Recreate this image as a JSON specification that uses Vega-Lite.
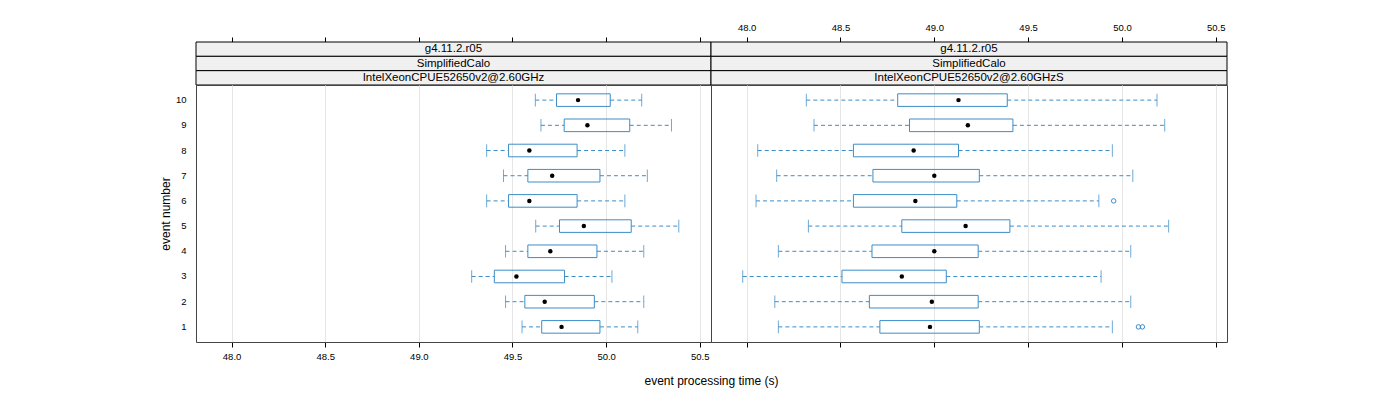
{
  "$schema": "https://vega.github.io/schema/vega-lite/v6.json",
  "padding": {"left": 158, "top": 22, "right": 5, "bottom": 5},
  "autosize": {"type": "pad"},
  "background": "white",
  "datasets": {
    "stats": [
      {"panel": "L", "ev": 10, "lo": 49.622, "q1": 49.735, "med": 49.850, "q3": 50.022, "hi": 50.190},
      {"panel": "L", "ev": 9, "lo": 49.652, "q1": 49.776, "med": 49.900, "q3": 50.126, "hi": 50.349},
      {"panel": "L", "ev": 8, "lo": 49.362, "q1": 49.479, "med": 49.590, "q3": 49.845, "hi": 50.100},
      {"panel": "L", "ev": 7, "lo": 49.452, "q1": 49.582, "med": 49.712, "q3": 49.967, "hi": 50.220},
      {"panel": "L", "ev": 6, "lo": 49.362, "q1": 49.479, "med": 49.590, "q3": 49.845, "hi": 50.100},
      {"panel": "L", "ev": 5, "lo": 49.624, "q1": 49.751, "med": 49.881, "q3": 50.134, "hi": 50.388},
      {"panel": "L", "ev": 4, "lo": 49.463, "q1": 49.582, "med": 49.702, "q3": 49.951, "hi": 50.201},
      {"panel": "L", "ev": 3, "lo": 49.282, "q1": 49.403, "med": 49.521, "q3": 49.778, "hi": 50.031},
      {"panel": "L", "ev": 2, "lo": 49.463, "q1": 49.566, "med": 49.672, "q3": 49.937, "hi": 50.201},
      {"panel": "L", "ev": 1, "lo": 49.551, "q1": 49.656, "med": 49.762, "q3": 49.967, "hi": 50.169},
      {"panel": "R", "ev": 10, "lo": 48.318, "q1": 48.805, "med": 49.129, "q3": 49.389, "hi": 50.187},
      {"panel": "R", "ev": 9, "lo": 48.359, "q1": 48.868, "med": 49.179, "q3": 49.419, "hi": 50.228},
      {"panel": "R", "ev": 8, "lo": 48.059, "q1": 48.569, "med": 48.890, "q3": 49.129, "hi": 49.949},
      {"panel": "R", "ev": 7, "lo": 48.160, "q1": 48.673, "med": 49.000, "q3": 49.240, "hi": 50.058},
      {"panel": "R", "ev": 6, "lo": 48.050, "q1": 48.569, "med": 48.899, "q3": 49.120, "hi": 49.877},
      {"panel": "R", "ev": 5, "lo": 48.329, "q1": 48.827, "med": 49.167, "q3": 49.403, "hi": 50.249},
      {"panel": "R", "ev": 4, "lo": 48.169, "q1": 48.668, "med": 49.000, "q3": 49.234, "hi": 50.047},
      {"panel": "R", "ev": 3, "lo": 47.979, "q1": 48.508, "med": 48.827, "q3": 49.064, "hi": 49.889},
      {"panel": "R", "ev": 2, "lo": 48.150, "q1": 48.654, "med": 48.987, "q3": 49.234, "hi": 50.047},
      {"panel": "R", "ev": 1, "lo": 48.169, "q1": 48.710, "med": 48.977, "q3": 49.240, "hi": 49.949}
    ],
    "outliers": [
      {"panel": "R", "ev": 6, "t": 49.956},
      {"panel": "R", "ev": 1, "t": 50.088},
      {"panel": "R", "ev": 1, "t": 50.109}
    ],
    "strips": [
      {"panel": "L", "level": 1, "label": "g4.11.2.r05"},
      {"panel": "L", "level": 2, "label": "SimplifiedCalo"},
      {"panel": "L", "level": 3, "label": "IntelXeonCPUE52650v2@2.60GHz"},
      {"panel": "R", "level": 1, "label": "g4.11.2.r05"},
      {"panel": "R", "level": 2, "label": "SimplifiedCalo"},
      {"panel": "R", "level": 3, "label": "IntelXeonCPUE52650v2@2.60GHzS"}
    ]
  },
  "columns": 2,
  "spacing": 0,
  "bounds": "flush",
  "concat": [
    {
      "width": 515, "height": 43,
      "view": {"stroke": null},
      "data": {"name": "strips"},
      "transform": [{"filter": "datum.panel == 'L'"}],
      "layer": [
        {
          "mark": {"type": "rect", "fill": "#f0f0f0", "stroke": "#000000", "strokeWidth": 1},
          "encoding": {
            "x": {"datum": 47.81, "type": "quantitative",
                  "scale": {"domain": [47.81, 50.56], "nice": false, "zero": false},
                  "axis": {"orient": "top", "values": [48, 48.5, 49, 49.5, 50, 50.5], "labels": false, "grid": false, "domain": false, "tickSize": 5, "tickColor": "#000000", "title": null}},
            "x2": {"datum": 50.56},
            "y": {"field": "level", "type": "ordinal", "axis": null, "scale": {"paddingInner": 0, "paddingOuter": 0}}
          }
        },
        {
          "mark": {"type": "text", "fontSize": 11.5, "color": "#000000"},
          "encoding": {
            "y": {"field": "level", "type": "ordinal", "axis": null},
            "text": {"field": "label"}
          }
        }
      ]
    },
    {
      "width": 516, "height": 43,
      "view": {"stroke": null},
      "data": {"name": "strips"},
      "transform": [{"filter": "datum.panel == 'R'"}],
      "layer": [
        {
          "mark": {"type": "rect", "fill": "#f0f0f0", "stroke": "#000000", "strokeWidth": 1},
          "encoding": {
            "x": {"datum": 47.81, "type": "quantitative",
                  "scale": {"domain": [47.81, 50.56], "nice": false, "zero": false},
                  "axis": {"orient": "top", "values": [48, 48.5, 49, 49.5, 50, 50.5], "format": ".1f", "labels": true, "grid": false, "domain": false, "tickSize": 5, "tickColor": "#000000", "labelPadding": 5, "labelFontSize": 9.5, "labelColor": "#000000", "title": null}},
            "x2": {"datum": 50.56},
            "y": {"field": "level", "type": "ordinal", "axis": null, "scale": {"paddingInner": 0, "paddingOuter": 0}}
          }
        },
        {
          "mark": {"type": "text", "fontSize": 11.5, "color": "#000000"},
          "encoding": {
            "y": {"field": "level", "type": "ordinal", "axis": null},
            "text": {"field": "label"}
          }
        }
      ]
    },
    {
      "width": 515, "height": 257,
      "data": {"name": "stats"},
      "transform": [{"filter": "datum.panel == 'L'"}],
      "encoding": {
        "y": {"field": "ev", "type": "ordinal", "sort": "descending",
              "scale": {"domain": [10, 9, 8, 7, 6, 5, 4, 3, 2, 1], "paddingInner": 0.5, "paddingOuter": 0.35},
              "axis": {"title": "event number", "ticks": false, "domain": false, "grid": false, "labelPadding": 10, "labelFontSize": 9.5, "labelColor": "#000000", "titleFontSize": 12, "titleFontWeight": "normal", "titleColor": "#000000", "titlePadding": 3, "labelAngle": 0}}
      },
      "layer": [
        {
          "mark": {"type": "rule", "color": "#3c8dc8", "strokeDash": [4, 3], "strokeWidth": 1},
          "encoding": {
            "x": {"field": "lo", "type": "quantitative",
                  "scale": {"domain": [47.81, 50.56], "nice": false, "zero": false},
                  "axis": {"orient": "bottom", "values": [48, 48.5, 49, 49.5, 50, 50.5], "format": ".1f", "grid": true, "gridColor": "#e6e6e6", "domain": false, "tickSize": 5, "tickColor": "#000000", "labelPadding": 4, "labelFontSize": 9.5, "labelColor": "#000000",
                           "title": "event processing time (s)", "titleFontSize": 12, "titleFontWeight": "normal", "titleColor": "#000000", "titleX": 515, "titleY": 42, "titleAlign": "center", "titleBaseline": "alphabetic"}},
            "x2": {"field": "q1"}
          }
        },
        {
          "mark": {"type": "rule", "color": "#3c8dc8", "strokeDash": [4, 3], "strokeWidth": 1},
          "encoding": {"x": {"field": "q3", "type": "quantitative"}, "x2": {"field": "hi"}}
        },
        {
          "mark": {"type": "tick", "color": "#3c8dc8", "size": 12.6, "thickness": 1, "opacity": 0.75},
          "encoding": {"x": {"field": "lo", "type": "quantitative"}}
        },
        {
          "mark": {"type": "tick", "color": "#3c8dc8", "size": 12.6, "thickness": 1, "opacity": 0.75},
          "encoding": {"x": {"field": "hi", "type": "quantitative"}}
        },
        {
          "mark": {"type": "bar", "fill": "#ffffff", "fillOpacity": 0, "stroke": "#3c8dc8", "strokeWidth": 1},
          "encoding": {"x": {"field": "q1", "type": "quantitative"}, "x2": {"field": "q3"}}
        },
        {
          "mark": {"type": "circle", "color": "#000000", "size": 20, "opacity": 1},
          "encoding": {"x": {"field": "med", "type": "quantitative"}}
        }
      ]
    },
    {
      "width": 516, "height": 257,
      "layer": [
        {
          "data": {"name": "stats"},
          "transform": [{"filter": "datum.panel == 'R'"}],
          "encoding": {
            "y": {"field": "ev", "type": "ordinal", "sort": "descending",
                  "scale": {"domain": [10, 9, 8, 7, 6, 5, 4, 3, 2, 1], "paddingInner": 0.5, "paddingOuter": 0.35},
                  "axis": null}
          },
          "layer": [
            {
              "mark": {"type": "rule", "color": "#3c8dc8", "strokeDash": [4, 3], "strokeWidth": 1},
              "encoding": {
                "x": {"field": "lo", "type": "quantitative",
                      "scale": {"domain": [47.81, 50.56], "nice": false, "zero": false},
                      "axis": {"orient": "bottom", "values": [48, 48.5, 49, 49.5, 50, 50.5], "labels": false, "grid": true, "gridColor": "#e6e6e6", "domain": false, "tickSize": 5, "tickColor": "#000000", "title": null}},
                "x2": {"field": "q1"}
              }
            },
            {
              "mark": {"type": "rule", "color": "#3c8dc8", "strokeDash": [4, 3], "strokeWidth": 1},
              "encoding": {"x": {"field": "q3", "type": "quantitative"}, "x2": {"field": "hi"}}
            },
            {
              "mark": {"type": "tick", "color": "#3c8dc8", "size": 12.6, "thickness": 1, "opacity": 0.75},
              "encoding": {"x": {"field": "lo", "type": "quantitative"}}
            },
            {
              "mark": {"type": "tick", "color": "#3c8dc8", "size": 12.6, "thickness": 1, "opacity": 0.75},
              "encoding": {"x": {"field": "hi", "type": "quantitative"}}
            },
            {
              "mark": {"type": "bar", "fill": "#ffffff", "fillOpacity": 0, "stroke": "#3c8dc8", "strokeWidth": 1},
              "encoding": {"x": {"field": "q1", "type": "quantitative"}, "x2": {"field": "q3"}}
            },
            {
              "mark": {"type": "circle", "color": "#000000", "size": 20, "opacity": 1},
              "encoding": {"x": {"field": "med", "type": "quantitative"}}
            }
          ]
        },
        {
          "data": {"name": "outliers"},
          "mark": {"type": "point", "filled": false, "color": "#3c8dc8", "size": 20, "strokeWidth": 1, "opacity": 1},
          "encoding": {
            "x": {"field": "t", "type": "quantitative"},
            "y": {"field": "ev", "type": "ordinal", "sort": "descending",
                  "scale": {"domain": [10, 9, 8, 7, 6, 5, 4, 3, 2, 1]}, "axis": null}
          }
        }
      ]
    }
  ],
  "config": {
    "font": "Liberation Sans",
    "view": {"stroke": "#444444", "strokeWidth": 1},
    "axis": {"labelFont": "Liberation Sans", "titleFont": "Liberation Sans"}
  }
}
